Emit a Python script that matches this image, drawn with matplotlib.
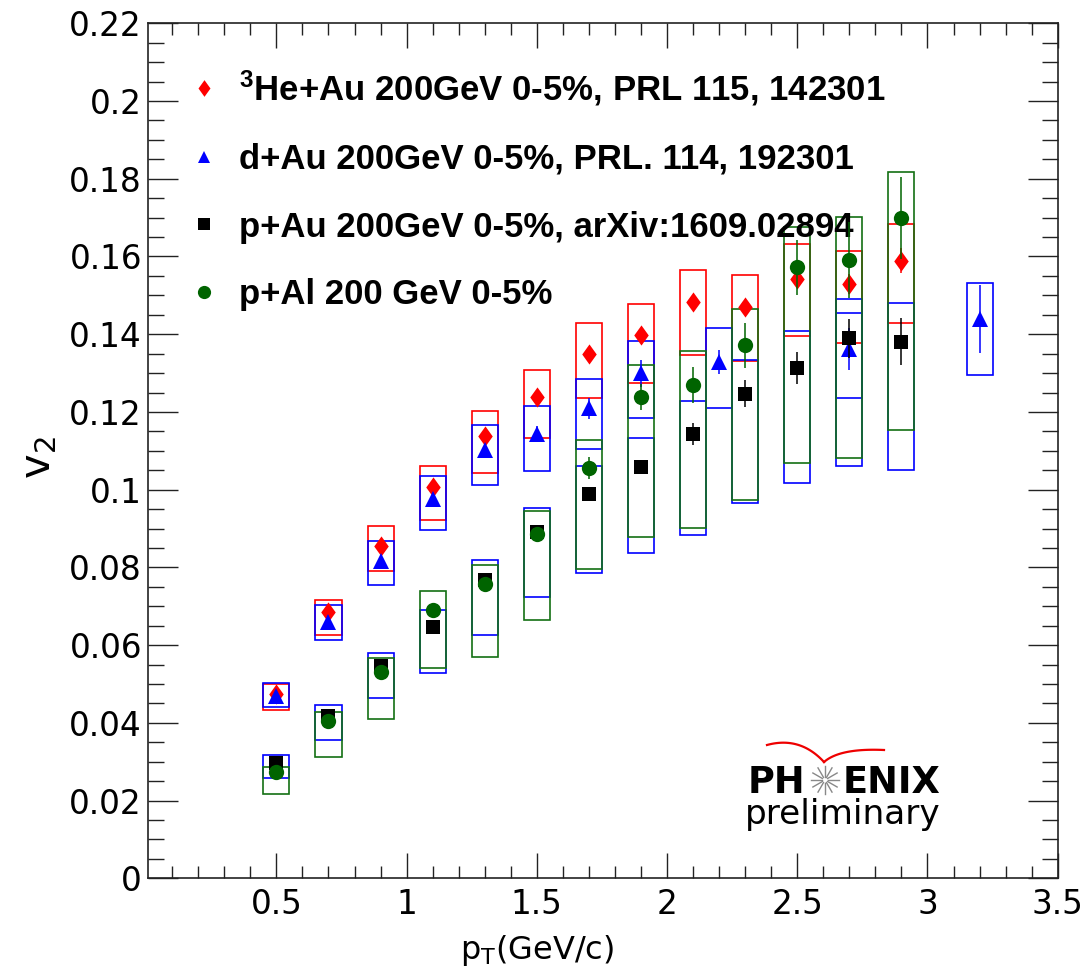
import numpy as np
import matplotlib
matplotlib.use('Agg')
import matplotlib.pyplot as plt
from matplotlib.path import Path
from matplotlib.lines import Line2D
from matplotlib.ticker import MultipleLocator, FuncFormatter

plt.rcParams['font.family'] = ['DejaVu Sans']
plt.rcParams['mathtext.fontset'] = 'custom'
plt.rcParams['mathtext.rm'] = 'DejaVu Sans'
plt.rcParams['mathtext.default'] = 'regular'

# 3He+Au 200 GeV 0-5% (red diamonds)
he_pt = [0.5, 0.7, 0.9, 1.1, 1.3, 1.5, 1.7, 1.9, 2.1, 2.3, 2.5, 2.7, 2.9]
he_v2 = [0.0475, 0.0684, 0.0856, 0.1006, 0.1138, 0.1239, 0.1350, 0.1398, 0.1482, 0.1471, 0.1541, 0.1529, 0.1589]
he_stat = [0.0005, 0.0005, 0.0007, 0.0008, 0.001, 0.001, 0.0012, 0.0015, 0.0015, 0.0018, 0.002, 0.0025, 0.0032]
he_sys_lo = [0.0433, 0.0625, 0.0790, 0.0922, 0.1043, 0.1133, 0.1237, 0.1275, 0.1347, 0.1331, 0.1395, 0.1378, 0.1430]
he_sys_hi = [0.0501, 0.0716, 0.0906, 0.1061, 0.1202, 0.1309, 0.1430, 0.1477, 0.1565, 0.1553, 0.1632, 0.1614, 0.1683]

# d+Au 200 GeV 0-5% (blue triangles)
da_pt = [0.5, 0.7, 0.9, 1.1, 1.3, 1.5, 1.7, 1.9, 2.2, 2.7, 3.2]
da_v2 = [0.0469, 0.0660, 0.0817, 0.0976, 0.1101, 0.1144, 0.1209, 0.1299, 0.1329, 0.1363, 0.1439]
da_stat = [0.0003, 0.0004, 0.0006, 0.0008, 0.0012, 0.002, 0.0028, 0.0035, 0.0031, 0.0054, 0.0088]
da_sys_lo = [0.0440, 0.0613, 0.0754, 0.0896, 0.1013, 0.1047, 0.1104, 0.1185, 0.1210, 0.1236, 0.1296]
da_sys_hi = [0.0502, 0.0703, 0.0867, 0.1034, 0.1167, 0.1214, 0.1284, 0.1382, 0.1417, 0.1455, 0.1533]

# p+Au 200 GeV 0-5% (black squares, blue boxes)
pa_pt = [0.5, 0.7, 0.9, 1.1, 1.3, 1.5, 1.7, 1.9, 2.1, 2.3, 2.5, 2.7, 2.9]
pa_v2 = [0.0297, 0.0417, 0.0546, 0.0646, 0.0768, 0.0892, 0.0989, 0.1058, 0.1144, 0.1247, 0.1312, 0.1389, 0.1381]
pa_stat = [0.0003, 0.0004, 0.0005, 0.0006, 0.0008, 0.001, 0.0012, 0.0015, 0.0028, 0.0034, 0.0041, 0.005, 0.006]
pa_sys_lo = [0.0257, 0.0356, 0.0463, 0.0528, 0.0626, 0.0725, 0.0785, 0.0836, 0.0883, 0.0965, 0.1018, 0.1060, 0.1051]
pa_sys_hi = [0.0316, 0.0445, 0.0579, 0.0691, 0.0820, 0.0952, 0.1060, 0.1133, 0.1227, 0.1333, 0.1408, 0.1490, 0.1481]

# p+Al 200 GeV 0-5% (green circles)
pl_pt = [0.5, 0.7, 0.9, 1.1, 1.3, 1.5, 1.7, 1.9, 2.1, 2.3, 2.5, 2.7, 2.9]
pl_v2 = [0.0273, 0.0404, 0.0532, 0.0690, 0.0757, 0.0886, 0.1056, 0.1239, 0.1269, 0.1372, 0.1572, 0.1591, 0.1699]
pl_stat = [0.0004, 0.0005, 0.0007, 0.0008, 0.001, 0.0012, 0.0029, 0.0034, 0.0046, 0.0058, 0.0071, 0.0098, 0.0105]
pl_sys_lo = [0.0218, 0.0312, 0.0411, 0.0540, 0.0570, 0.0665, 0.0797, 0.0879, 0.0901, 0.0974, 0.1068, 0.1081, 0.1154]
pl_sys_hi = [0.0286, 0.0429, 0.0567, 0.0738, 0.0807, 0.0944, 0.1129, 0.1322, 0.1356, 0.1464, 0.1677, 0.1701, 0.1817]

labels = [r'$^{3}$He+Au 200GeV 0-5%, PRL 115, 142301',
          'd+Au 200GeV 0-5%, PRL. 114, 192301',
          'p+Au 200GeV 0-5%, arXiv:1609.02894',
          'p+Al 200 GeV 0-5%']

RED, BLUE, BLACK, GREEN = '#ff0000', '#0000ff', '#000000', '#006400'
GREEN_BOX = '#137013'

diamond = Path([(0, 1), (0.72, 0), (0, -1), (-0.72, 0), (0, 1)],
               [Path.MOVETO, Path.LINETO, Path.LINETO, Path.LINETO, Path.CLOSEPOLY])

W, H = 1090, 974
fig = plt.figure(figsize=(W / 100, H / 100), dpi=100)
ax = fig.add_axes([147.5 / W, 1 - 878.3 / H, (1057.7 - 147.5) / W, (878.3 - 23.3) / H])

# systematic boxes
box_w = 0.1
for pt, lo, hi, col in [(he_pt, he_sys_lo, he_sys_hi, RED),
                        (da_pt, da_sys_lo, da_sys_hi, BLUE),
                        (pa_pt, pa_sys_lo, pa_sys_hi, BLUE),
                        (pl_pt, pl_sys_lo, pl_sys_hi, GREEN_BOX)]:
    lo = np.array(lo); hi = np.array(hi)
    ax.bar(pt, hi - lo, bottom=lo, width=box_w, fill=False, edgecolor=col,
           linewidth=1.2, zorder=1)

# points with statistical errors
ekw = dict(ls='none', capsize=3, elinewidth=1.1, capthick=1.1, markeredgewidth=0)
ax.errorbar(he_pt, he_v2, yerr=he_stat, marker=diamond, ms=14.5, color=RED, zorder=3, **ekw)
ax.errorbar(da_pt, da_v2, yerr=da_stat, marker='^', ms=11, color=BLUE, zorder=4, **ekw)
ax.errorbar(pa_pt, pa_v2, yerr=pa_stat, marker='s', ms=10, color=BLACK, zorder=5, **ekw)
ax.errorbar(pl_pt, pl_v2, yerr=pl_stat, marker='o', ms=11, color=GREEN, zorder=6, **ekw)

ax.set_xlim(0.005, 3.5)
ax.set_ylim(0, 0.22)
ax.set_xticks([0.5, 1, 1.5, 2, 2.5, 3, 3.5])
ax.xaxis.set_minor_locator(MultipleLocator(0.1))
ax.yaxis.set_major_locator(MultipleLocator(0.02))
ax.yaxis.set_minor_locator(MultipleLocator(0.005))
fmt = FuncFormatter(lambda v, p: '%g' % round(v, 4))
ax.xaxis.set_major_formatter(fmt)
ax.yaxis.set_major_formatter(fmt)

ax.tick_params(which='both', direction='in', top=True, right=True, width=1.0,
               color='#222222', labelsize=23.5)
ax.tick_params(axis='x', which='major', length=18, pad=7)
ax.tick_params(axis='x', which='minor', length=8.6)
ax.tick_params(axis='y', which='major', length=21.6, pad=4)
ax.tick_params(axis='y', which='minor', length=11.5)
for s in ax.spines.values():
    s.set_linewidth(1.2)
    s.set_color('#222222')

# axis titles
fig.text(537 / W, 1 - 950 / H, r'p$_T$(GeV/c)', fontsize=23, ha='center', va='center')
fig.text(38 / W, 1 - 458 / H, r'v$_2$', fontsize=30, rotation=90, ha='center', va='center')

# legend
handles = [Line2D([], [], ls='none', marker=diamond, ms=12, color=RED, markeredgewidth=0),
           Line2D([], [], ls='none', marker='^', ms=8.5, color=BLUE, markeredgewidth=0),
           Line2D([], [], ls='none', marker='s', ms=9, color=BLACK, markeredgewidth=0),
           Line2D([], [], ls='none', marker='o', ms=9.5, color=GREEN, markeredgewidth=0)]
ax.legend(handles, labels, loc='upper left', bbox_to_anchor=(0.043, 0.947),
          frameon=False, borderpad=0, borderaxespad=0, handlelength=1.0,
          handletextpad=0.5, labelspacing=1.0,
          prop=dict(family='Liberation Sans', weight='bold', size=25))

# PHENIX preliminary logo
def fx(px):
    return px / W

def fy(py):
    return 1 - py / H

fig.text(fx(748), fy(793), 'PH', fontsize=26.5, fontweight='bold', va='baseline', ha='left')
fig.text(fx(843), fy(793), 'ENIX', fontsize=26.5, fontweight='bold', va='baseline', ha='left')
fig.text(fx(745), fy(824), 'preliminary', fontsize=24.7, va='baseline', ha='left')
cx, cy = 825, 780
for a in np.arange(0, 360, 30):
    t = np.deg2rad(a)
    fig.add_artist(Line2D([fx(cx + 3 * np.cos(t)), fx(cx + 14 * np.cos(t))],
                          [fy(cy + 3 * np.sin(t)), fy(cy + 14 * np.sin(t))],
                          color='#888888', lw=1.0))
s = np.linspace(0, 1, 40)
for p0, p1, p2 in [((767, 745), (800, 736), (824, 762)), ((824, 762), (840, 748), (884, 750))]:
    bx = (1 - s) ** 2 * p0[0] + 2 * (1 - s) * s * p1[0] + s ** 2 * p2[0]
    by = (1 - s) ** 2 * p0[1] + 2 * (1 - s) * s * p1[1] + s ** 2 * p2[1]
    fig.add_artist(Line2D(fx(bx), fy(by), color='#ee0000', lw=1.6))

fig.savefig('out.png', dpi=100)
